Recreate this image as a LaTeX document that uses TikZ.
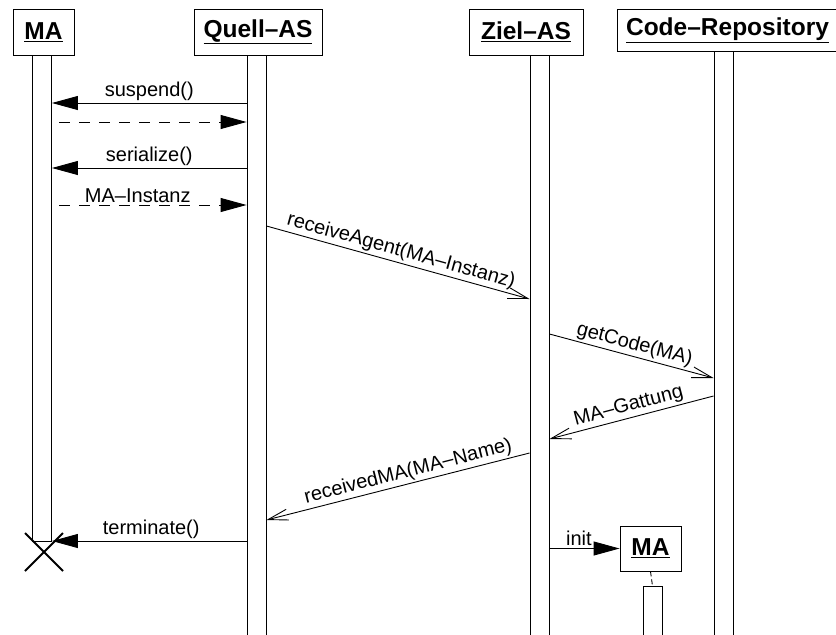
\documentclass[tikz,border=0pt]{standalone}
\usepackage{fontspec}
\setmainfont{Liberation Sans}
\usetikzlibrary{arrows.meta,calc}
\begin{document}
\begin{tikzpicture}[x=1pt,y=-1pt,
  obj/.style={draw,line width=0.9pt,inner sep=0pt,font=\fontsize{24.5}{26}\selectfont\bfseries},
  bar/.style={draw,line width=0.9pt,fill=white,inner sep=0pt,minimum width=19pt},
  sync/.style={line width=0.9pt,-{Triangle[length=26pt,width=14pt]}},
  ret/.style={line width=0.9pt,dash pattern=on 11pt off 9pt,-{Triangle[length=26pt,width=14pt]}},
  async/.style={line width=0.9pt,-{Straight Barb[length=20pt,width=11pt,line width=0.9pt]}},
  lbl/.style={font=\fontsize{20}{22}\selectfont,inner sep=2pt}]
\useasboundingbox (0,0) rectangle (836,635);
% headers
\node[obj,minimum width=61pt,minimum height=46pt] (ma) at (43.5,32) {\underline{MA}};
\node[obj,minimum width=128pt,minimum height=46pt] (qa) at (258,32) {\underline{Quell--AS}};
\node[obj,minimum width=114pt,minimum height=46pt] (za) at (526,32) {\underline{Ziel--AS}};
\node[obj,minimum width=221pt,minimum height=42pt] (cr) at (727.5,30) {\underline{Code--Repository}};
% lifeline bars
\node[bar,anchor=north,minimum height=486pt] (mabar) at (42,55) {};
\node[bar,anchor=north,minimum height=590pt] (qbar) at (256.5,55) {};
\node[bar,anchor=north,minimum height=590pt] (zbar) at (539.5,55) {};
\node[bar,anchor=north,minimum height=594pt] (cbar) at (723.5,51) {};
% new MA
\node[obj,minimum width=61pt,minimum height=45pt] (newma) at (650.5,548.5) {\underline{MA}};
\node[bar,anchor=north,minimum height=60pt] (newbar) at (652.5,586) {};
\draw[line width=0.9pt,dash pattern=on 5pt off 3pt] (newma.south) -- (newbar.north);
% messages
\draw[sync] (qbar.west |- 0,103) -- node[lbl,above] {suspend()} (mabar.east |- 0,103);
\coordinate (r1) at (59,122);
\draw[ret] (r1) -- (qbar.west |- r1);
\draw[sync] (qbar.west |- 0,168) -- node[lbl,above] {serialize()} (mabar.east |- 0,168);
\coordinate (r2) at (59,205);
\draw[ret] (r2) -- node[lbl,above,pos=0.42] {MA--Instanz} (qbar.west |- r2);
\draw[async] (qbar.east |- 0,226) -- node[lbl,above,sloped] {receiveAgent(MA--Instanz)} (zbar.west |- 0,299);
\draw[async] (zbar.east |- 0,334) -- node[lbl,above,sloped] {getCode(MA)} (cbar.west |- 0,378);
\draw[async] (cbar.west |- 0,396) -- node[lbl,above,sloped] {MA--Gattung} (zbar.east |- 0,439);
\draw[async] (zbar.west |- 0,453) -- node[lbl,above,sloped,pos=0.45] {receivedMA(MA--Name)} (qbar.east |- 0,520);
\draw[sync] (qbar.west |- 0,541) -- node[lbl,above,pos=0.49] {terminate()} (mabar.east |- 0,541);
\draw[sync] (zbar.east |- newma.west) -- node[lbl,above,pos=0.42] {init} (newma.west);
% destruction
\coordinate (x) at (44,552);
\draw[line width=2pt] ($(x)+(-19,-19)$) -- ($(x)+(19,19)$) ($(x)+(-19,19)$) -- ($(x)+(19,-19)$);
\end{tikzpicture}
\end{document}
